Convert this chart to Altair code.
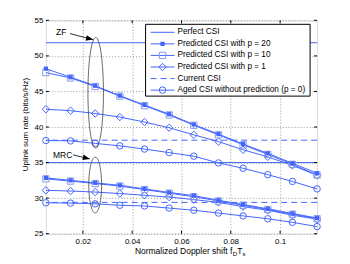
import altair as alt
import pandas as pd

# ---------------- data ----------------
x_vals = [0.005, 0.015, 0.025, 0.035, 0.045, 0.055, 0.065, 0.075, 0.085, 0.095, 0.105, 0.115]

zf_p20 = [48.2, 47.0, 45.8, 44.4, 43.1, 41.8, 40.35, 39.0, 37.6, 36.3, 34.9, 33.5]
zf_p10 = [47.65, 46.9, 45.7, 44.35, 43.0, 41.7, 40.25, 38.9, 37.5, 36.15, 34.75, 33.25]
zf_p1 = [42.5, 42.3, 41.9, 41.4, 40.7, 39.9, 38.9, 37.95, 36.8, 35.8, 34.6, 33.2]
zf_aged = [38.1, 38.05, 37.7, 37.35, 36.9, 36.4, 35.9, 34.95, 34.2, 33.3, 32.35, 31.3]

mrc_p20 = [32.85, 32.5, 32.15, 31.8, 31.3, 30.8, 30.35, 29.7, 29.1, 28.5, 27.85, 27.2]
mrc_p10 = [32.7, 32.4, 32.05, 31.7, 31.2, 30.7, 30.2, 29.6, 29.0, 28.4, 27.75, 27.1]
mrc_p1 = [31.1, 31.0, 30.85, 30.65, 30.4, 30.15, 29.8, 29.4, 28.8, 28.3, 27.6, 27.05]
mrc_aged = [29.35, 29.3, 29.2, 29.0, 28.9, 28.6, 28.3, 27.9, 27.5, 27.1, 26.6, 26.0]

groups = ["ZF", "MRC"]
perfect_csi = [51.85, 35.0]
current_csi = [38.15, 29.4]

legend_labels = [
    "Perfect CSI",
    "Predicted CSI with p = 20",
    "Predicted CSI with p = 10",
    "Predicted CSI with p = 1",
    "Current CSI",
    "Aged CSI without prediction (p = 0)",
]

x_ticks = [0.02, 0.04, 0.06, 0.08, 0.1]
y_ticks = [25, 30, 35, 40, 45, 50, 55]

# annotation anchors (data coordinates)
ann_labels = ["ZF", "MRC"]
ann_text_x = [0.0112, 0.0118]
ann_text_y = [53.3, 36.05]
ann_arrow_x0 = [0.0148, 0.0160]
ann_arrow_y0 = [53.13, 36.08]
ann_arrow_x1 = [0.0241, 0.0228]
ann_arrow_y1 = [52.29, 35.52]
ell_x = [0.0252, 0.0250]
ell_y = [44.8, 31.85]

# ---------------- styling ----------------
W, H = 272, 214
BLUE = "#4466ff"
LIGHT = "#8a9be8"
FONT = "Liberation Sans"

xscale = alt.Scale(domain=[0.005, 0.115], nice=False, zero=False)
yscale = alt.Scale(domain=[25, 55], nice=False, zero=False)

xaxis = alt.Axis(values=x_ticks, format="~g", title=None, grid=True, gridDash=[1, 2],
                 gridColor="#9a9a9a", ticks=False, domain=False, labelPadding=4,
                 labelFontSize=8, labelFont=FONT, labelColor="#000", labelOverlap=False,
                 zindex=0)
yaxis = alt.Axis(values=y_ticks, format="d", title="Uplink sum rate (bits/s/Hz)", grid=True,
                 gridDash=[1, 2], gridColor="#9a9a9a", ticks=False, domain=False,
                 labelPadding=3, labelFontSize=8, labelFont=FONT, labelColor="#000",
                 labelOverlap=False, titleFont=FONT, titleFontSize=8,
                 titleFontWeight="normal", titlePadding=5, titleColor="#000",
                 titleY=104, zindex=0)


def XS(field):
    return alt.X(field, scale=xscale, axis=xaxis, title=None)


def YS(field):
    return alt.Y(field, scale=yscale, axis=yaxis, title="Uplink sum rate (bits/s/Hz)")


def series_df(zf, mrc):
    rows = []
    for g, vals in zip(groups, (zf, mrc)):
        for xv, yv in zip(x_vals, vals):
            rows.append({"x": xv, "y": yv, "group": g})
    return pd.DataFrame(rows)


layers = []

ref_df = pd.DataFrame({"group": groups, "perfect": perfect_csi, "current": current_csi})
layers.append(alt.Chart(ref_df).mark_rule(color=BLUE, strokeWidth=1).encode(y=YS("perfect:Q")))
layers.append(alt.Chart(ref_df).mark_rule(color=BLUE, strokeWidth=1, strokeDash=[6, 4]).encode(
    y=YS("current:Q")))


def add_series(zf, mrc, shape, size, filled, mcolor):
    df = series_df(zf, mrc)
    enc = dict(x=XS("x:Q"), y=YS("y:Q"), detail="group:N")
    layers.append(alt.Chart(df).mark_line(color=BLUE, strokeWidth=1).encode(**enc))
    layers.append(alt.Chart(df).mark_point(shape=shape, size=size, filled=filled,
                                           color=mcolor, fill=mcolor,
                                           fillOpacity=(1 if filled else 0),
                                           strokeWidth=1, opacity=1).encode(**enc))


add_series(zf_aged, mrc_aged, "circle", 42, False, BLUE)
add_series(zf_p1, mrc_p1, "diamond", 55, False, BLUE)
add_series(zf_p10, mrc_p10, "square", 40, False, LIGHT)
add_series(zf_p20, mrc_p20, "square", 18, True, BLUE)

# ---------------- inward ticks on all four sides ----------------
xt = pd.DataFrame({"x": x_ticks})
yt = pd.DataFrame({"y": y_ticks})
tick_col = "#000"
layers.append(alt.Chart(xt).mark_rule(color=tick_col, strokeWidth=1).encode(
    x=XS("x:Q"), y=alt.value(H), y2=alt.value(H - 3)))
layers.append(alt.Chart(xt).mark_rule(color=tick_col, strokeWidth=1).encode(
    x=XS("x:Q"), y=alt.value(0), y2=alt.value(3)))
layers.append(alt.Chart(yt).mark_rule(color=tick_col, strokeWidth=1).encode(
    y=YS("y:Q"), x=alt.value(0), x2=alt.value(3)))
layers.append(alt.Chart(yt).mark_rule(color=tick_col, strokeWidth=1).encode(
    y=YS("y:Q"), x=alt.value(W), x2=alt.value(W - 3)))

# ---------------- annotations: ellipses, arrows, labels ----------------
k = 0.5523


def ellipse_path(a):
    return (f"M 0 -1 C {k*a:.4f} -1 {a} {-k:.4f} {a} 0 "
            f"C {a} {k:.4f} {k*a:.4f} 1 0 1 "
            f"C {-k*a:.4f} 1 {-a} {k:.4f} {-a} 0 "
            f"C {-a} {-k:.4f} {-k*a:.4f} -1 0 -1 Z")


ell_specs = [(0.14, 111), (0.23, 56)]
for i, (a, hpx) in enumerate(ell_specs):
    d = pd.DataFrame({"x": [ell_x[i]], "y": [ell_y[i]]})
    layers.append(alt.Chart(d).mark_point(shape=ellipse_path(a), size=hpx * hpx, filled=False,
                                          color="#444", strokeWidth=0.8, opacity=1).encode(
        x=XS("x:Q"), y=YS("y:Q")))

arr = pd.DataFrame({"x": ann_arrow_x0, "y": ann_arrow_y0, "x1": ann_arrow_x1, "y1": ann_arrow_y1,
                    "tx": ann_text_x, "ty": ann_text_y, "label": ann_labels})
layers.append(alt.Chart(arr).mark_rule(color="#000", strokeWidth=0.8).encode(
    x=XS("x:Q"), y=YS("y:Q"), x2="x1:Q", y2="y1:Q"))
layers.append(alt.Chart(arr).mark_point(shape="M 0 0 L -1 -0.4 L -1 0.4 Z", size=196, filled=True,
                                        color="#000", opacity=1, angle=14).encode(
    x=XS("x1:Q"), y=YS("y1:Q")))
layers.append(alt.Chart(arr).mark_text(font=FONT, fontSize=8.5, color="#000", align="center",
                                       baseline="middle").encode(
    x=XS("tx:Q"), y=YS("ty:Q"), text="label:N"))

# ---------------- legend (drawn by hand, MATLAB style) ----------------
LX0, LX1, LY0, LY1 = 100, 265, 4, 76
layers.append(alt.Chart(pd.DataFrame({"a": [0]})).mark_rect(fill="white", stroke="#000",
                                                            strokeWidth=1).encode(
    x=alt.value(LX0), x2=alt.value(LX1), y=alt.value(LY0), y2=alt.value(LY1)))

row_y = [12, 23.6, 35.2, 46.8, 58.4, 70]
leg_style = [
    (None, None, False, BLUE, None),
    ("square", 18, True, BLUE, None),
    ("square", 40, False, LIGHT, None),
    ("diamond", 55, False, BLUE, None),
    (None, None, False, BLUE, [6, 4]),
    ("circle", 42, False, BLUE, None),
]
one = pd.DataFrame({"a": [0]})
for lab, ry, (shape, size, filled, mcol, dash) in zip(legend_labels, row_y, leg_style):
    rkw = dict(color=BLUE, strokeWidth=1)
    if dash:
        rkw["strokeDash"] = dash
    layers.append(alt.Chart(one).mark_rule(**rkw).encode(
        x=alt.value(105), x2=alt.value(129), y=alt.value(ry)))
    if shape:
        layers.append(alt.Chart(one).mark_point(shape=shape, size=size, filled=filled, color=mcol,
                                                fill=mcol, fillOpacity=(1 if filled else 0),
                                                strokeWidth=1, opacity=1).encode(
            x=alt.value(117), y=alt.value(ry)))
    layers.append(alt.Chart(pd.DataFrame({"t": [lab]})).mark_text(
        font=FONT, fontSize=8.25, align="left", baseline="middle", color="#000").encode(
        x=alt.value(132), y=alt.value(ry), text="t:N"))

# ---------------- x-axis title with subscripts ----------------
xt_parts = [("Normalized Doppler shift f", 187, 234, 8.5, "right"),
            ("D", 187.3, 236.5, 6, "left"),
            ("T", 192, 234, 8.5, "left"),
            ("s", 197.2, 236.5, 6, "left")]
for txt, px, py, fs, al in xt_parts:
    layers.append(alt.Chart(pd.DataFrame({"t": [txt]})).mark_text(
        font=FONT, fontSize=fs, align=al, baseline="alphabetic", color="#000").encode(
        x=alt.value(px), y=alt.value(py), text="t:N"))

chart = alt.layer(*layers).properties(
    width=W, height=H,
    autosize=alt.AutoSizeParams(type="none"),
    padding={"left": 38, "top": 12, "right": 25, "bottom": 24},
).configure_view(stroke="#000", strokeWidth=1).configure(font=FONT, background="white")

chart.save("out.html", embed_options={"renderer": "svg", "actions": False})
